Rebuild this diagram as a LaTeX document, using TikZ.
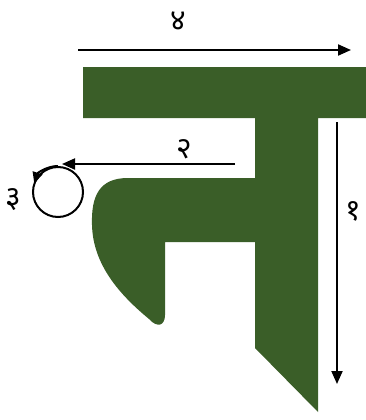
\documentclass[tikz,border=0pt]{standalone}
\usepackage{fontspec}
\newfontfamily\deva[Script=Devanagari]{Noto Sans}
\usetikzlibrary{arrows.meta}
\definecolor{leafgreen}{RGB}{58,94,40}
\tikzset{
  stroke/.style={line width=2pt, -{Triangle[length=13pt,width=11pt]}},
  numlabel/.style={font=\deva\fontsize{30}{30}\selectfont, inner sep=0pt},
}
\begin{document}
\begin{tikzpicture}[x=1pt,y=-1pt]
\useasboundingbox (0,0) rectangle (366,420);
% letter shape
\fill[leafgreen] (83,67) -- (366,67) -- (366,118) -- (318,118) -- (318,412)
  -- (255,348) -- (255,242) -- (165,242) -- (165,315)
  .. controls (165,326) and (157,328) .. (149,319)
  .. controls (120,295) and (93,265) .. (92,225)
  .. controls (91,195) and (100,178) .. (128,178)
  -- (255,178) -- (255,118) -- (83,118) -- cycle;
% stroke 4
\coordinate (s4a) at (78,50);
\coordinate (s4b) at (351,50);
\draw[stroke] (s4a) -- (s4b);
\node[numlabel] (l4) at (178,21) {४};
% stroke 1
\coordinate (s1a) at (337,122);
\coordinate (s1b) at (337,384);
\draw[stroke] (s1a) -- (s1b);
\node[numlabel] (l1) at (353,211) {१};
% stroke 2
\coordinate (s2a) at (235,164);
\coordinate (s2b) at (62,164);
\draw[stroke] (s2a) -- (s2b);
\node[numlabel] (l2) at (184,149) {२};
% stroke 3 (circle)
\node[circle, draw, line width=2pt, minimum size=50pt, inner sep=0pt] (c3) at (58,192) {};
\draw[line width=2pt, -{Triangle[length=11pt,width=10pt]}] (c3.north) arc (-90:-162:25);
\node[numlabel] (l3) at (13,200) {३};
\end{tikzpicture}
\end{document}
